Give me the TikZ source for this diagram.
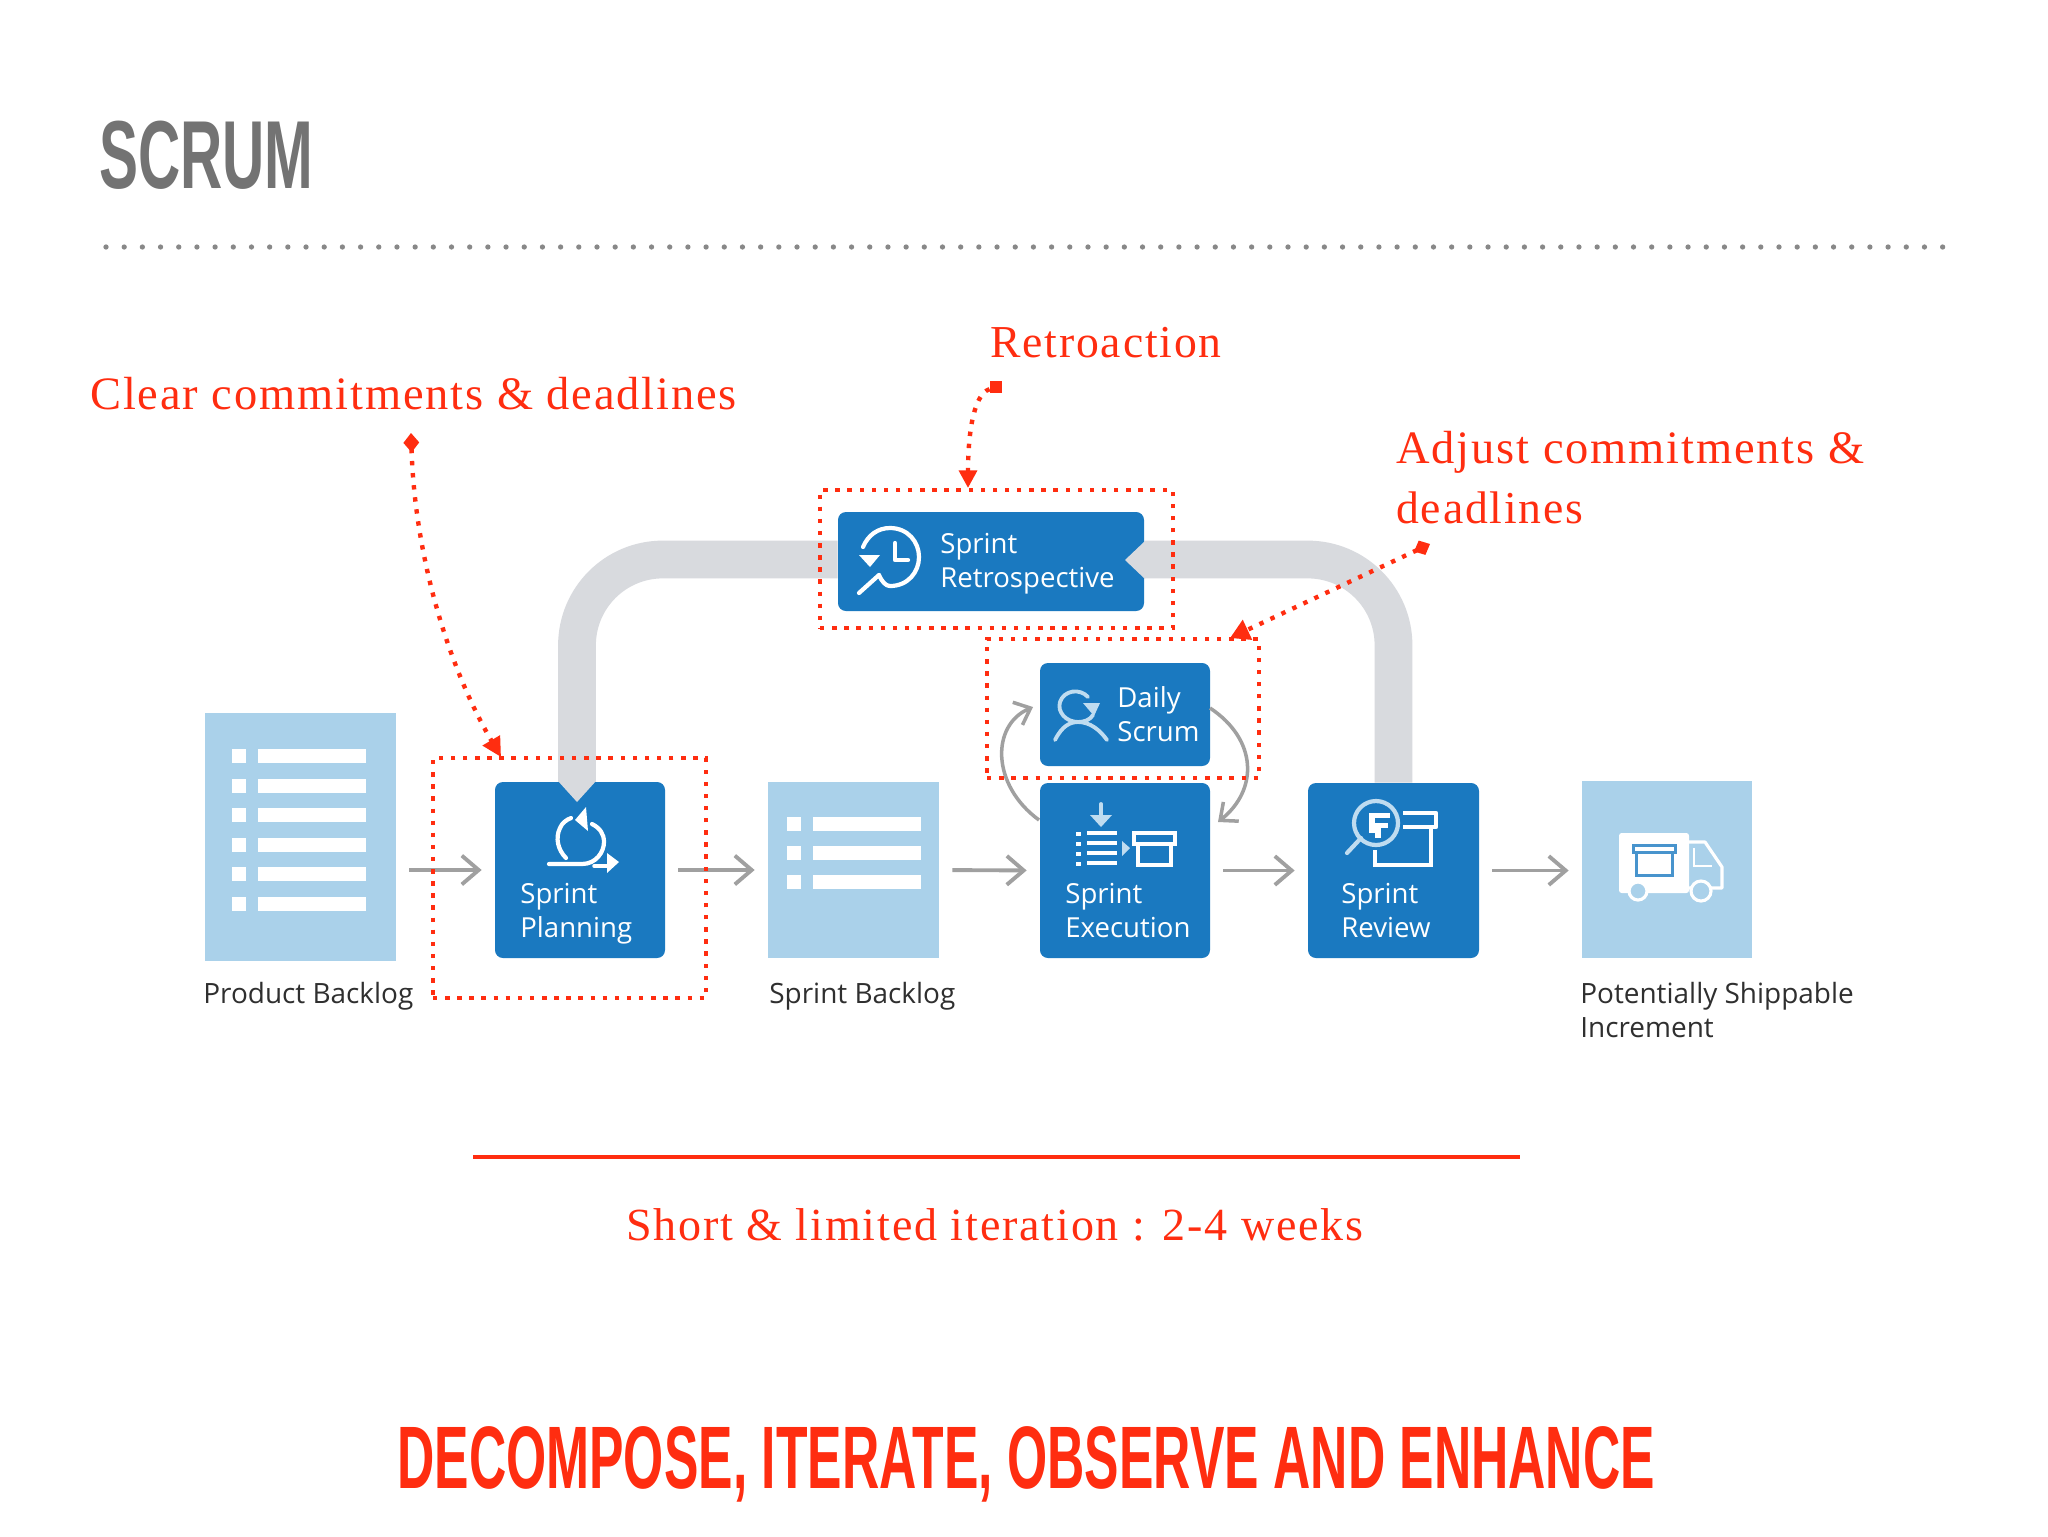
\documentclass[tikz,border=0pt]{standalone}
\usepackage{fontspec}
\usetikzlibrary{arrows.meta,calc}
\setmainfont{Liberation Sans}
\newfontfamily\dinfont[FakeStretch=0.605]{Liberation Sans}
\newfontfamily\dinfontb[FakeStretch=0.582]{Liberation Sans}
\newfontfamily\uifont{Open Sans}
\newfontfamily\redfont[LetterSpace=4]{Liberation Serif}
\definecolor{bluebox}{HTML}{1A79C0}
\definecolor{paleblue}{HTML}{AAD1EA}
\definecolor{archgrey}{HTML}{D8DADE}
\definecolor{arrowgrey}{HTML}{A0A0A0}
\definecolor{redline}{HTML}{FF2D10}
\definecolor{titlegrey}{HTML}{737373}
\definecolor{labeldark}{HTML}{2F2F2F}
\definecolor{softblue}{HTML}{BFDCF0}
\pgfdeclarelayer{under}
\pgfsetlayers{under,main}
\tikzset{
  flowbox/.style={fill=bluebox,rounded corners=4.5pt,inner sep=0pt},
  pagebox/.style={fill=paleblue,inner sep=0pt},
  dotbox/.style={draw=redline,line width=2.5pt,dash pattern=on 2.5pt off 4.4pt,inner sep=0pt},
  reddot/.style={draw=redline,line width=2.5pt,dash pattern=on 2.5pt off 4.4pt},
  flowarrow/.style={draw=arrowgrey,line width=2.2pt,shorten <=7.4pt,shorten >=7.4pt,yshift=-0.5pt,-{Straight Barb[length=9.6pt,width=16.4pt]}},
  looparrow/.style={draw=arrowgrey,line width=2pt,-{Straight Barb[length=8pt,width=14pt]}},
  archline/.style={draw=archgrey,line width=21.5pt,rounded corners=48.8pt},
  boxtext/.style={font=\uifont\fontsize{15.7}{19.8}\selectfont,text=white,inner sep=0pt,anchor=base west},
  doctext/.style={font=\uifont\fontsize{15.9}{19.8}\selectfont,text=labeldark,inner sep=0pt,anchor=base west},
  redtext/.style={font=\redfont\fontsize{26}{30}\selectfont,text=redline,inner sep=0pt,anchor=base west},
  redtextwide/.style={font=\redfont\fontsize{26.45}{30}\selectfont,text=redline,inner sep=0pt,anchor=base west},
  ico/.style={draw=white,line width=2.2pt,line cap=round,line join=round},
}
\newcommand{\pxbox}[6]{\node[#6,minimum width={(#4-#2)*0.02cm},minimum height={(#5-#3)*0.02cm}] (#1) at ({(#2+#4)/2},{(#3+#5)/2}) {};}
\newcommand{\twolines}[2]{\vtop{\baselineskip=19.8pt\hbox{#1}\hbox{#2}}}
\newcommand{\bullets}[3]{\foreach \yy in {#3}{\fill[white] (#1,\yy) rectangle +(14,13.5);\fill[white] (#2,\yy) rectangle +(108,13.5);}}
\begin{document}
\begin{tikzpicture}[x=0.02cm,y=-0.02cm]
\useasboundingbox (0,0) rectangle (2048,1536);
% title
\node[font=\dinfont\bfseries\fontsize{55}{60}\selectfont,text=titlegrey,inner sep=0pt,anchor=base west] (title) at (99,188) {SCRUM};
\coordinate (ruleL) at (106,247);
\coordinate (ruleR) at (1948,247);
\draw[titlegrey!85,line width=3pt,line cap=round,dash pattern=on 0pt off 10.35pt] (ruleL) -- (ruleR);
% boxes
\pxbox{pb}{205}{713}{396}{961}{pagebox}
\pxbox{plan}{495}{782}{665}{958}{flowbox}
\pxbox{sb}{768}{782}{939}{958}{pagebox}
\pxbox{exec}{1040}{783}{1210}{958}{flowbox}
\pxbox{review}{1308}{783}{1479}{958}{flowbox}
\pxbox{inc}{1582}{781}{1752}{958}{pagebox}
\pxbox{daily}{1040}{663}{1210}{766}{flowbox}
\pxbox{retro}{838}{512}{1144}{611}{flowbox}
% page and arch beneath the boxes
\begin{pgfonlayer}{under}
\fill[white] (0,0) rectangle (2048,1536);
\draw[archline] ($(plan.north)+(-3,0)$) |- ($(retro.west)+(0,-2)$);
\draw[archline] ($(retro.east)+(0,-2)$) -| (review.north);
\end{pgfonlayer}
\fill[archgrey] (558,781) -- (596,781) -- (577,802) -- cycle;
\fill[archgrey] (1145,541) -- (1125,560) -- (1145,579) -- cycle;
% page contents
\bullets{232}{258}{749,779,808,838,867,897}
\bullets{787}{813}{817,846,875}
% flow arrows
\draw[flowarrow] (pb.east |- plan.west) -- (plan.west);
\draw[flowarrow] (plan.east) -- (sb.west);
\draw[flowarrow] (sb.east) -- (exec.west);
\draw[flowarrow] (exec.east) -- (review.west);
\draw[flowarrow] (review.east) -- (inc.west |- review.east);
% loop arrows
\coordinate (loopA) at (1039,820);
\coordinate (loopB) at (1033,707);
\coordinate (loopC) at (1210,708);
\coordinate (loopD) at (1218,822);
\draw[looparrow] (loopA) .. controls (991,785) and (991,725) .. (loopB);
\draw[looparrow] (loopC) .. controls (1258,740) and (1258,790) .. (loopD);
% texts in boxes
\node[boxtext] (tplan) at (520,903) {\twolines{Sprint}{Planning}};
\node[boxtext] (texec) at (1065,903) {\twolines{Sprint}{Execution}};
\node[boxtext] (trev) at (1341,903) {\twolines{Sprint}{Review}};
\node[boxtext] (tretro) at (940,553) {\twolines{Sprint}{Retrospective}};
\node[boxtext] (tdaily) at (1117,707) {\twolines{Daily}{Scrum}};
\node[doctext] (lpb) at (203,1003) {Product Backlog};
\node[doctext] (lsb) at (769,1003) {Sprint Backlog};
\node[doctext] (linc) at (1580,1003) {\twolines{Potentially Shippable}{Increment}};
% icon: sprint planning
\draw[ico,line width=2.4pt] (549,864) -- (582,864) .. controls (596,864) and (604,852) .. (604,842) .. controls (604,834) and (600,828) .. (592,824);
\draw[ico,line width=2.4pt] (566,858) .. controls (558,850) and (555,838) .. (560,828) .. controls (562,823) and (566,820) .. (571,818);
\fill[white] (586,807) -- (575,820) -- (588,831) -- cycle;
\draw[ico,line width=2pt] (594,866) -- (608,866);
\fill[white] (607,853) -- (619,862) -- (607,873) -- cycle;
% icon: retrospective
\draw[ico,line width=2.4pt] (863,547) .. controls (868,535) and (878,528) .. (890,528) .. controls (908,528) and (919,542) .. (919,557) .. controls (919,572) and (908,586) .. (890,586) .. controls (886,586) and (882,582) .. (879,575);
\fill[white] (859,555) -- (880,555) -- (870,567) -- cycle;
\draw[ico,line width=2.4pt] (895,543) -- (895,560) -- (908,560);
\draw[ico,line width=2.4pt] (859,593) -- (879,575);
% icon: daily scrum
\draw[ico,draw=softblue,line width=2.2pt] (1088,697) .. controls (1080,688) and (1064,690) .. (1060,702) .. controls (1057,712) and (1066,722) .. (1078,722) .. controls (1084,722) and (1090,720) .. (1093,715);
\fill[softblue] (1083,703) -- (1100,703) -- (1094,716) -- cycle;
\draw[ico,draw=softblue,line width=2.2pt] (1055,740) .. controls (1062,726) and (1070,722) .. (1078,722) .. controls (1090,722) and (1100,730) .. (1107,740);
% icon: execution
\draw[ico,draw=softblue,line width=2.2pt] (1101,804) -- (1101,822);
\fill[softblue] (1090,815) -- (1112,815) -- (1101,827) -- cycle;
\foreach \yy in {833,843,853,863}{
  \draw[white,line width=1.9pt] (1087,\yy) -- (1117,\yy);
  \fill[white] (1076,\yy-1.5) rectangle +(5,4);
}
\fill[softblue] (1122,841) -- (1130,848) -- (1122,856) -- cycle;
\draw[ico,line width=2pt,line cap=butt,line join=miter] (1134,833) rectangle (1175,844);
\draw[ico,line width=2pt,line cap=butt,line join=miter] (1138,844) rectangle (1171,865);
% icon: review
\draw[ico,draw=softblue,line width=2.4pt] (1376,823) circle[radius=22];
\draw[ico,draw=softblue,line width=2.4pt] (1347,853) -- (1361,838);
\draw[ico,line width=2.4pt,line cap=butt] (1403,813) -- (1436,813) -- (1436,827) -- (1403,827);
\draw[ico,line width=2.4pt,line cap=butt,line join=miter] (1375,850) -- (1375,865) -- (1431,865) -- (1431,827);
\fill[white] (1369,813) rectangle (1390,818);
\fill[white] (1369,813) rectangle (1375,833);
\fill[white] (1369,823) rectangle (1388,828);
\fill[white] (1375,828) rectangle (1381,838);
% icon: increment truck
\fill[white,rounded corners=1.5pt] (1619,833) rectangle (1689,893);
\draw[bluebox!80!white,line width=1.7pt] (1633,845) rectangle (1675,852);
\draw[bluebox!80!white,line width=1.7pt] (1636,852) rectangle (1672,875);
\draw[white,line width=1.8pt,line join=round] (1689,842) -- (1705,842) -- (1722,867) -- (1722,888) -- (1689,888);
\draw[white,line width=1.6pt] (1694,848) -- (1694,866) -- (1712,866);
\fill[paleblue,draw=white,line width=1.8pt] (1638,891) circle[radius=9];
\fill[paleblue,draw=white,line width=1.8pt] (1701,891) circle[radius=10];
% dotted frames
\pxbox{dplan}{433}{758}{706}{998}{dotbox}
\pxbox{dretro}{820}{490}{1173}{628}{dotbox}
\pxbox{ddaily}{987}{639}{1259}{778}{dotbox}
% red annotations
\node[redtextwide] (tclear) at (90,409) {Clear commitments \& deadlines};
\node[redtext] (tret) at (990,357) {Retroaction};
\node[redtextwide] (tadj) at (1396,463) {Adjust commitments \&};
\node[redtext] (tdead) at (1396,523) {deadlines};
\node[redtext,font=\redfont\fontsize{26.2}{30}\selectfont] (tshort) at (626,1240) {Short \& limited iteration : 2-4 weeks};
\coordinate (cA) at (411,433);
\coordinate (cAend) at (501,757);
\coordinate (cBend) at (968,488);
\coordinate (cC) at (1430,544);
\coordinate (cCend) at (1230,638);
\draw[reddot,{Diamond[length=11pt,width=9pt,fill=redline]}-{Triangle[length=11pt,width=11pt,fill=redline]}] (cA) .. controls (415,560) and (450,670) .. (cAend);
\node[fill=redline,minimum size=7pt,inner sep=0pt] (cB) at (996,387) {};
\draw[reddot,-{Triangle[length=10pt,width=10pt,fill=redline]}] (cB) .. controls (972,395) and (968,440) .. (cBend);
\draw[reddot,{Diamond[length=10pt,width=9pt,fill=redline]}-{Triangle[length=11pt,width=12pt,fill=redline]}] (cC) -- (cCend);
% iteration line
\coordinate (iterL) at (473,1157);
\coordinate (iterR) at (1520,1157);
\draw[redline,line width=2.3pt] (iterL) -- (iterR);
% bottom title
\node[font=\dinfontb\bfseries\fontsize{50.5}{56}\selectfont,text=redline,inner sep=0pt,anchor=base west] (bottom) at (397,1488) {DECOMPOSE, ITERATE, OBSERVE AND ENHANCE};
\end{tikzpicture}
\end{document}
